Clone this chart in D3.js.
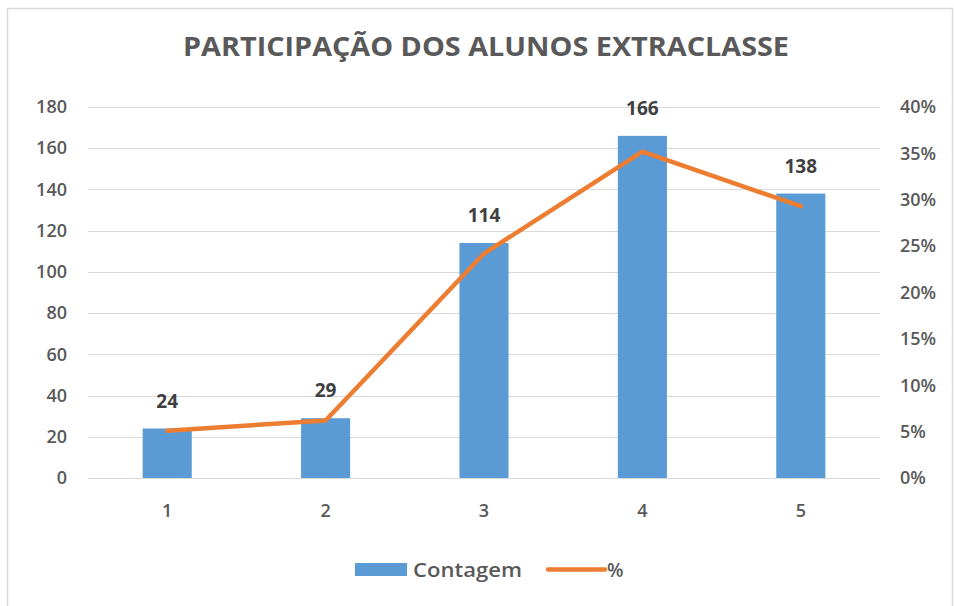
<!DOCTYPE html>
<html>
<head>
<meta charset="utf-8">
<script src="https://cdn.jsdelivr.net/npm/d3@7"></script>
<style>
  body { margin: 0; background: #fff; }
  svg { display: block; font-family: "Open Sans", "Noto Sans", sans-serif; }
</style>
</head>
<body>
<div id="chart"></div>
<script>
// Données
const categorias = ["1", "2", "3", "4", "5"];
const contagem = [24, 29, 114, 166, 138];
const percentual = [0.051, 0.062, 0.242, 0.352, 0.293];
const ticksEsq = [0, 20, 40, 60, 80, 100, 120, 140, 160, 180];
const ticksDir = [0, 0.05, 0.10, 0.15, 0.20, 0.25, 0.30, 0.35, 0.40];

const width = 954;
const height = 606;
const marginLeft = 88;
const marginRight = 74;
const marginTop = 107;
const marginBottom = 128;

const svg = d3.select("#chart")
  .append("svg")
  .attr("width", width)
  .attr("height", height);

// cadre
svg.append("path")
  .attr("d", `M7.5,${height} V8.5 H${width - 1.5} V${height}`)
  .attr("fill", "none")
  .attr("stroke", "#d9d9d9")
  .attr("stroke-width", 1.5);

// Échelles
const x = d3.scaleBand()
  .domain(categorias)
  .range([marginLeft, width - marginRight])
  .paddingInner(0.69)
  .paddingOuter(0.345);
const xc = d => x(d) + x.bandwidth() / 2;
const y = d3.scaleLinear().domain([0, 180]).range([height - marginBottom, marginTop]);
const y2 = d3.scaleLinear().domain([0, 0.40]).range([height - marginBottom, marginTop]);

// Titre
svg.append("text")
  .attr("x", 486)
  .attr("y", 56)
  .attr("text-anchor", "middle")
  .attr("font-size", 27)
  .attr("font-weight", "bold")
  .attr("fill", "#595959")
  .attr("textLength", 606)
  .attr("lengthAdjust", "spacingAndGlyphs")
  .text("PARTICIPAÇÃO DOS ALUNOS EXTRACLASSE");

// grille
svg.append("g")
  .selectAll("line")
  .data(ticksEsq)
  .join("line")
  .attr("x1", marginLeft)
  .attr("x2", width - marginRight)
  .attr("y1", d => Math.round(y(d)) + 0.5)
  .attr("y2", d => Math.round(y(d)) + 0.5)
  .attr("stroke", "#d9d9d9")
  .attr("stroke-width", 1);

const styleTicks = sel => sel
  .attr("font-size", 18)
  .attr("font-weight", 600)
  .attr("font-family", "Open Sans")
  .attr("fill", "#595959");

// Axe gauche
const axeG = svg.append("g")
  .attr("transform", `translate(${marginLeft},0)`)
  .call(d3.axisLeft(y).tickValues(ticksEsq).tickSize(0).tickPadding(21));
axeG.select(".domain").remove();
styleTicks(axeG.selectAll("text"));

// Axe droit
const axeD = svg.append("g")
  .attr("transform", `translate(${width - marginRight},0)`)
  .call(d3.axisRight(y2).tickValues(ticksDir).tickSize(0).tickPadding(20).tickFormat(d3.format(".0%")));
axeD.select(".domain").remove();
styleTicks(axeD.selectAll("text"));

// Axe X
const axeX = svg.append("g")
  .attr("transform", `translate(0,${height - marginBottom})`)
  .call(d3.axisBottom(x).tickSize(0).tickPadding(26));
axeX.select(".domain").remove();
styleTicks(axeX.selectAll("text"));

// Barres
svg.append("g")
  .selectAll("rect")
  .data(contagem)
  .join("rect")
  .attr("x", (d, i) => x(categorias[i]))
  .attr("y", d => y(d))
  .attr("width", x.bandwidth())
  .attr("height", d => y(0) - y(d))
  .attr("fill", "#5b9bd5");

// Étiquettes
svg.append("g")
  .selectAll("text")
  .data(contagem)
  .join("text")
  .attr("x", (d, i) => xc(categorias[i]))
  .attr("y", d => y(d) - 21)
  .attr("text-anchor", "middle")
  .attr("font-size", 19)
  .attr("font-weight", "bold")
  .attr("fill", "#404040")
  .text(d => d);

// Ligne %
const ligne = d3.line()
  .x((d, i) => xc(categorias[i]))
  .y(d => y2(d));
svg.append("path")
  .datum(percentual)
  .attr("fill", "none")
  .attr("stroke", "#ed7d31")
  .attr("stroke-width", 4.5)
  .attr("stroke-linejoin", "round")
  .attr("stroke-linecap", "round")
  .attr("d", ligne);

// Légende
const leg = svg.append("g");
leg.append("rect")
  .attr("x", 355).attr("y", 563)
  .attr("width", 52).attr("height", 13)
  .attr("fill", "#5b9bd5");
leg.append("text")
  .attr("x", 413).attr("y", 577)
  .attr("font-size", 19)
  .attr("font-weight", 600)
  .attr("fill", "#595959")
  .attr("textLength", 109)
  .attr("lengthAdjust", "spacingAndGlyphs")
  .text("Contagem");
leg.append("line")
  .attr("x1", 548).attr("x2", 605)
  .attr("y1", 569.5).attr("y2", 569.5)
  .attr("stroke", "#ed7d31")
  .attr("stroke-width", 4.5)
  .attr("stroke-linecap", "round");
leg.append("text")
  .attr("x", 607).attr("y", 577)
  .attr("font-size", 19)
  .attr("font-weight", 600)
  .attr("fill", "#595959")
  .text("%");
</script>
</body>
</html>
